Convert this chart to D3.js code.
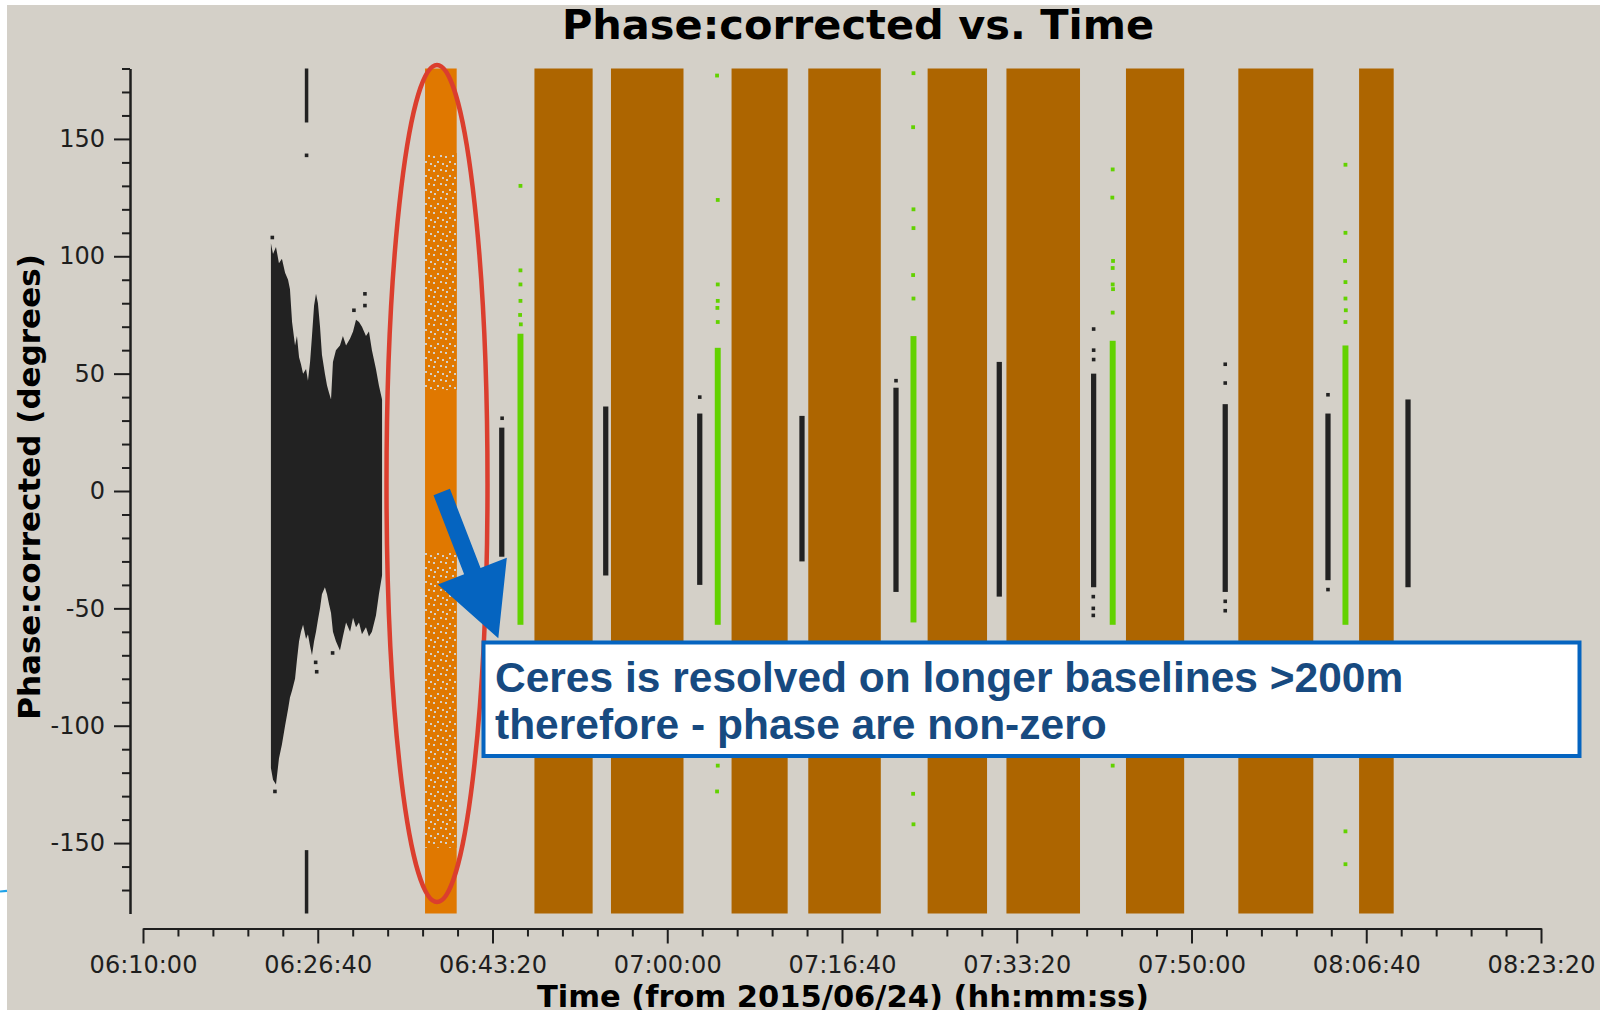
<!DOCTYPE html>
<html><head><meta charset="utf-8">
<script src="https://cdn.jsdelivr.net/npm/d3@7"></script>
<style>html,body{margin:0;padding:0;background:#fff;} svg{display:block}</style>
</head><body>
<svg id="chart" width="1602" height="1010"></svg>
<script>
// ---- data (time as hh:mm:ss, phase in degrees) ----
const timeTicks = ["06:10:00","06:26:40","06:43:20","07:00:00","07:16:40","07:33:20","07:50:00","08:06:40","08:23:20"];
const phaseTicks = [-150,-100,-50,0,50,100,150];

// dense early scan: upper / lower phase envelope
const cloudTimes = ["06:22:12","06:22:24","06:22:41","06:22:58","06:23:15","06:23:33","06:23:50","06:24:01","06:24:13","06:24:30","06:24:41","06:24:53","06:25:04","06:25:16","06:25:33","06:25:44","06:25:56","06:26:07","06:26:19","06:26:30","06:26:41","06:26:53","06:27:04","06:27:21","06:27:33","06:27:44","06:27:56","06:28:07","06:28:24","06:28:47","06:29:04","06:29:22","06:29:45","06:30:02","06:30:19","06:30:36","06:30:53","06:31:16","06:31:33","06:31:50","06:32:13","06:32:30","06:32:48"];
const cloudHigh = [105.6,101,104,97,99,93,90,86,72,62,66,57,54,50,52,47,55,66,79,84,80,70,58,50,45,42,39,55,60,62,66,62,65,68,73,72,70,66,68,60,52,45,39];
const cloudLow  = [-118,-123,-125,-114,-108,-100,-93,-88,-85,-80,-72,-64,-60,-57,-63,-61,-66,-70,-64,-60,-55,-50,-44,-41,-44,-48,-52,-60,-64,-68,-62,-56,-60,-54,-58,-56,-61,-58,-62,-60,-53,-44,-36];
const cloudStray = [["06:22:20",108],["06:31:10",84],["06:31:10",79],["06:30:07",77],["06:26:34",-77],["06:26:28",-73],["06:28:05",-69],["06:22:35",-128]];

// highlighted scan (full phase range) and its sparse zones
const highlightScan = ["06:36:54","06:39:55"];
const highlightSparse = [[43,144],[-152,-26]];

// wide-spread target scans
const bandStart = ["06:47:20","06:54:38","07:06:08","07:13:27","07:24:50","07:32:21","07:43:45","07:54:28","08:05:59"];
const bandEnd   = ["06:52:53","07:01:33","07:11:29","07:20:22","07:30:30","07:39:22","07:49:18","08:01:37","08:09:17"];

// calibrator scans (black): start, end, low, high
const calStart = ["06:25:26","06:25:26","06:43:58","06:53:53","07:02:51","07:12:36","07:21:34","07:31:25","07:40:25","07:52:58","08:02:46","08:10:24"];
const calEnd   = ["06:25:46","06:25:46","06:44:28","06:54:23","07:03:21","07:13:06","07:22:04","07:31:55","07:40:55","07:53:28","08:03:16","08:10:54"];
const calLow   = [157,-180,-28,-36,-40,-30,-43,-45,-41,-43,-38,-41];
const calHigh  = [180,-153,27,36,33,32,44,55,50,37,33,39];
const calStray = [["06:25:36",143],["06:44:15",31],["07:03:06",40],["07:21:49",47],["07:40:40",69],["07:40:40",60],["07:40:40",56],["07:40:38",-45],["07:40:38",-50],["07:40:38",-53],["07:53:13",54],["07:53:13",46],["07:53:13",-47],["07:53:13",-51],["08:03:01",41],["08:03:01",-42]];

// secondary calibrator scans (green)
const greenStart = ["06:45:43","07:04:32","07:23:12","07:42:12","08:04:24"];
const greenEnd   = ["06:46:17","07:05:06","07:23:46","07:42:46","08:04:58"];
const greenLow   = [-57,-57,-56,-57,-57];
const greenHigh  = [67,61,66,64,62];
const greenStray = [["06:46:00",130],["06:46:00",94],["06:46:00",88],["06:46:00",81],["06:45:58",75],["06:46:02",71],
  ["07:04:45",177],["07:04:49",124],["07:04:49",88],["07:04:49",81],["07:04:47",78],["07:04:49",72],["07:04:49",-117],["07:04:45",-128],
  ["07:23:29",178],["07:23:27",155],["07:23:29",120],["07:23:29",112],["07:23:27",92],["07:23:29",82],["07:23:27",-129],["07:23:29",-142],
  ["07:42:29",137],["07:42:27",125],["07:42:31",98],["07:42:29",95],["07:42:29",88],["07:42:31",86],["07:42:29",76],["07:42:29",-117],
  ["08:04:41",139],["08:04:41",110],["08:04:39",98],["08:04:41",89],["08:04:41",82],["08:04:43",77],["08:04:41",72],["08:04:41",-145],["08:04:41",-159]];

// ---- helpers ----
const sec = s => { const [h,m,ss] = s.split(":").map(Number); return h*3600 + m*60 + ss; };
const hms = v => { const h = Math.floor(v/3600), m = Math.floor(v%3600/60), s = v%60;
  return [h,m,s].map(d => String(d).padStart(2,"0")).join(":"); };

const svg = d3.select("#chart");
const BG = "#d4d0c8";
const INK = "#1e1e1e";

svg.append("rect").attr("x",7).attr("y",5).attr("width",1593).attr("height",1005).attr("fill",BG);

const x = d3.scaleLinear().domain([sec(timeTicks[0]), sec(timeTicks[timeTicks.length-1])]).range([143, 1541]);
const y = d3.scaleLinear().domain([-180,180]).range([913.5, 68.5]);

// speckle texture for sparse parts of the highlighted scan
const defs = svg.append("defs");
const pat = defs.append("pattern").attr("id","holes").attr("width",12).attr("height",14).attr("patternUnits","userSpaceOnUse");
pat.append("rect").attr("width",12).attr("height",14).attr("fill","#e07800");
[[1,2],[8,1],[5,7],[10,9],[2,11]].forEach(([a,b]) =>
  pat.append("rect").attr("x",a).attr("y",b).attr("width",2).attr("height",2).attr("fill",BG));

const plot = svg.append("g");

// wide-spread bands
plot.selectAll("rect.band").data(bandStart.map((s,i)=>[sec(s),sec(bandEnd[i])])).join("rect")
  .attr("class","band")
  .attr("x",d=>x(d[0])).attr("width",d=>x(d[1])-x(d[0]))
  .attr("y",y(180)).attr("height",y(-180)-y(180))
  .attr("fill","#ad6500");

// highlighted scan
const hs0 = x(sec(highlightScan[0])), hs1 = x(sec(highlightScan[1]));
plot.append("rect").attr("x",hs0).attr("width",hs1-hs0)
  .attr("y",y(180)).attr("height",y(-180)-y(180)).attr("fill","#e07800");
plot.selectAll("rect.sparse").data(highlightSparse).join("rect")
  .attr("class","sparse")
  .attr("x",hs0).attr("width",hs1-hs0)
  .attr("y",d=>y(d[1])).attr("height",d=>y(d[0])-y(d[1])).attr("fill","url(#holes)");

// dense early scan
const cloud = cloudTimes.map((t,i)=>({t:sec(t),hi:cloudHigh[i],lo:cloudLow[i]}));
plot.append("path").datum(cloud)
  .attr("d", d3.area().x(d=>x(d.t)).y0(d=>y(d.lo)).y1(d=>y(d.hi)))
  .attr("fill","#222");
plot.selectAll("rect.cstray").data(cloudStray).join("rect").attr("class","cstray")
  .attr("x",d=>x(sec(d[0]))-1.8).attr("y",d=>y(d[1])-1.8).attr("width",3.6).attr("height",3.6).attr("fill","#222");

// calibrator columns
plot.selectAll("rect.cal").data(calStart.map((s,i)=>({s:sec(s),e:sec(calEnd[i]),lo:calLow[i],hi:calHigh[i]}))).join("rect")
  .attr("class","cal")
  .attr("x",d=>x(d.s)).attr("width",d=>x(d.e)-x(d.s))
  .attr("y",d=>y(d.hi)).attr("height",d=>y(d.lo)-y(d.hi)).attr("fill","#222");
plot.selectAll("rect.calstray").data(calStray).join("rect").attr("class","calstray")
  .attr("x",d=>x(sec(d[0]))-1.8).attr("y",d=>y(d[1])-1.8).attr("width",3.6).attr("height",3.6).attr("fill","#222");

// green columns
plot.selectAll("rect.green").data(greenStart.map((s,i)=>({s:sec(s),e:sec(greenEnd[i]),lo:greenLow[i],hi:greenHigh[i]}))).join("rect")
  .attr("class","green")
  .attr("x",d=>x(d.s)).attr("width",d=>x(d.e)-x(d.s))
  .attr("y",d=>y(d.hi)).attr("height",d=>y(d.lo)-y(d.hi)).attr("fill","#62d200");
plot.selectAll("rect.gstray").data(greenStray).join("rect").attr("class","gstray")
  .attr("x",d=>x(sec(d[0]))-1.9).attr("y",d=>y(d[1])-1.9).attr("width",3.8).attr("height",3.8).attr("fill","#62d200");

// ---- axes ----
const axisStyle = g => {
  g.selectAll(".domain").attr("stroke",INK).attr("stroke-width",2);
  g.selectAll(".tick line").attr("stroke",INK).attr("stroke-width",2);
  g.selectAll(".tick text").attr("fill",INK).style("font-family","'DejaVu Sans'").style("font-size","24px");
};
const t0 = sec(timeTicks[0]), t1 = sec(timeTicks[timeTicks.length-1]);
const xMinor = d3.range(t0, t1+1, 200).filter(v => (v - t0) % 1000 !== 0);
const xMajor = timeTicks.map(sec);
const gx = svg.append("g").attr("transform","translate(0,928.5)");
gx.append("g").call(d3.axisBottom(x).tickValues(xMinor).tickSize(8).tickSizeOuter(0).tickFormat(() => "")).call(axisStyle);
gx.append("g").call(d3.axisBottom(x).tickValues(xMajor).tickSize(15).tickSizeOuter(0).tickPadding(12).tickFormat(hms)).call(axisStyle);

const yMinor = d3.range(-170, 181, 10).filter(v => v % 50 !== 0);
const gy = svg.append("g").attr("transform","translate(130,0)");
gy.append("g").call(d3.axisLeft(y).tickValues(yMinor).tickSize(8).tickSizeOuter(0).tickFormat(() => "")).call(axisStyle);
gy.append("g").call(d3.axisLeft(y).tickValues(phaseTicks).tickSize(16).tickSizeOuter(0).tickPadding(9).tickFormat(d => String(d))).call(axisStyle);

// ---- titles ----
svg.append("text").attr("x",858).attr("y",39).attr("text-anchor","middle")
  .style("font-family","'DejaVu Sans'").style("font-weight","bold").style("font-size","41.5px").attr("fill","#000")
  .text("Phase:corrected vs. Time");
svg.append("text").attr("transform","translate(39.5,487) rotate(-90)").attr("text-anchor","middle")
  .style("font-family","'DejaVu Sans'").style("font-weight","bold").style("font-size","31px").attr("fill","#000")
  .text("Phase:corrected (degrees)");
svg.append("text").attr("x",843).attr("y",1007).attr("text-anchor","middle")
  .style("font-family","'DejaVu Sans'").style("font-weight","bold").style("font-size","30.5px").attr("fill","#000")
  .text("Time (from 2015/06/24) (hh:mm:ss)");

// ---- callout ----
svg.append("path").attr("d","M0,891.5 L7,890.8").attr("stroke","#1fa2e8").attr("stroke-width",2.2).attr("fill","none");

svg.append("ellipse").attr("cx",437).attr("cy",483.5).attr("rx",50.5).attr("ry",418.5)
  .attr("fill","none").attr("stroke","#db3e2e").attr("stroke-width",4.5);

(function arrow(){
  const tail = [441.7,492], tip = [498.3,638.3];
  const dx = tip[0]-tail[0], dy = tip[1]-tail[1], len = Math.hypot(dx,dy);
  const u = [dx/len, dy/len], n = [-u[1], u[0]];
  const hw = 8.8, headW = 37, headL = 72;
  const b = [tip[0]-u[0]*headL, tip[1]-u[1]*headL];
  const p = (c,s) => [c[0]+n[0]*s, c[1]+n[1]*s];
  const pts = [p(tail,hw), p(b,hw), p(b,headW), tip, p(b,-headW), p(b,-hw), p(tail,-hw)];
  svg.append("polygon").attr("points", pts.map(q=>q.join(",")).join(" ")).attr("fill","#0564c0");
})();

svg.append("rect").attr("x",483.5).attr("y",642.5).attr("width",1096).attr("height",113.5)
  .attr("fill","#fff").attr("stroke","#0564c0").attr("stroke-width",4);
const note = svg.append("g").style("font-family","'Liberation Sans', Arial, sans-serif").style("font-weight","bold")
  .style("font-size","42.5px").attr("fill","#174a80");
note.append("text").attr("x",495).attr("y",692).text("Ceres is resolved on longer baselines >200m");
note.append("text").attr("x",495).attr("y",739).text("therefore - phase are non-zero");
</script>
</body></html>
